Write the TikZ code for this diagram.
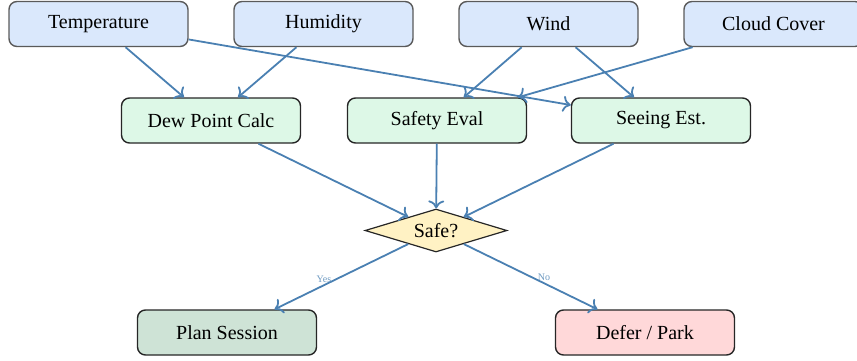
\documentclass[tikz,border=0pt]{standalone}
\usepackage{fontspec}
\setmainfont{Liberation Serif}
\usetikzlibrary{shapes.geometric,arrows.meta}

\definecolor{flow}{RGB}{74,128,178}
\definecolor{inputfill}{HTML}{DAE8FC}
\definecolor{inputdraw}{HTML}{5A5A5A}
\definecolor{procfill}{HTML}{DDF8E7}
\definecolor{decfill}{HTML}{FFF2C4}
\definecolor{planfill}{HTML}{CEE3D6}
\definecolor{deferfill}{HTML}{FFD8D9}

\tikzset{
  box/.style={rectangle, rounded corners=4pt, line width=0.7pt,
    minimum width=89.5pt, minimum height=22.5pt, inner sep=2pt,
    font=\fontsize{10}{12}\selectfont},
  inputbox/.style={box, draw=inputdraw, fill=inputfill},
  procbox/.style={box, draw=black!85, fill=procfill},
  endbox/.style={box, draw=black!85},
  decision/.style={diamond, draw=black!85, line width=0.6pt, fill=decfill,
    aspect=3.3, inner sep=0.5pt, minimum width=71pt, minimum height=21.5pt,
    font=\fontsize{10}{12}\selectfont},
  flowline/.style={draw=flow, line width=0.9pt,
    -{To[length=4pt,width=8pt]}},
  choice/.style={text=flow!80, font=\fontsize{5}{6}\selectfont, inner sep=1pt},
}

\begin{document}
\begin{tikzpicture}[x=0.5pt, y=-0.5pt]
  \clip (0,0) rectangle (857,360);

  % measured inputs
  \node[inputbox] (temp)  at (98.5,24) {Temperature};
  \node[inputbox] (hum)   at (323.5,24) {Humidity};
  \node[inputbox] (wind)  at (548.5,24) {Wind};
  \node[inputbox] (cloud) at (773.5,24) {Cloud Cover};

  % derived quantities
  \node[procbox] (dew)    at (211,120.5) {Dew Point Calc};
  \node[procbox] (safety) at (437,120.5) {Safety Eval};
  \node[procbox] (seeing) at (661,120.5) {Seeing Est.};

  % decision and outcomes
  \node[decision] (safe) at (436,230.5) {Safe?};
  \node[endbox, fill=planfill]  (plan)  at (227,332.5) {Plan Session};
  \node[endbox, fill=deferfill] (defer) at (645,332.5) {Defer / Park};

  % inputs feeding the calculations
  \draw[flowline] (temp)  -- (dew);
  \draw[flowline] (hum)   -- (dew);
  \draw[flowline] (temp)  -- (seeing);
  \draw[flowline] (wind)  -- (safety);
  \draw[flowline] (wind)  -- (seeing);
  \draw[flowline] (cloud) -- (safety);

  % calculations feeding the decision
  \draw[flowline] (dew)    -- (safe);
  \draw[flowline] (safety) -- (safe);
  \draw[flowline] (seeing) -- (safe);

  % outcomes
  \draw[flowline] (safe) -- node[choice, pos=0.63, above] {Yes} (plan);
  \draw[flowline] (safe) -- node[choice, pos=0.6, above] {No} (defer);
\end{tikzpicture}
\end{document}
